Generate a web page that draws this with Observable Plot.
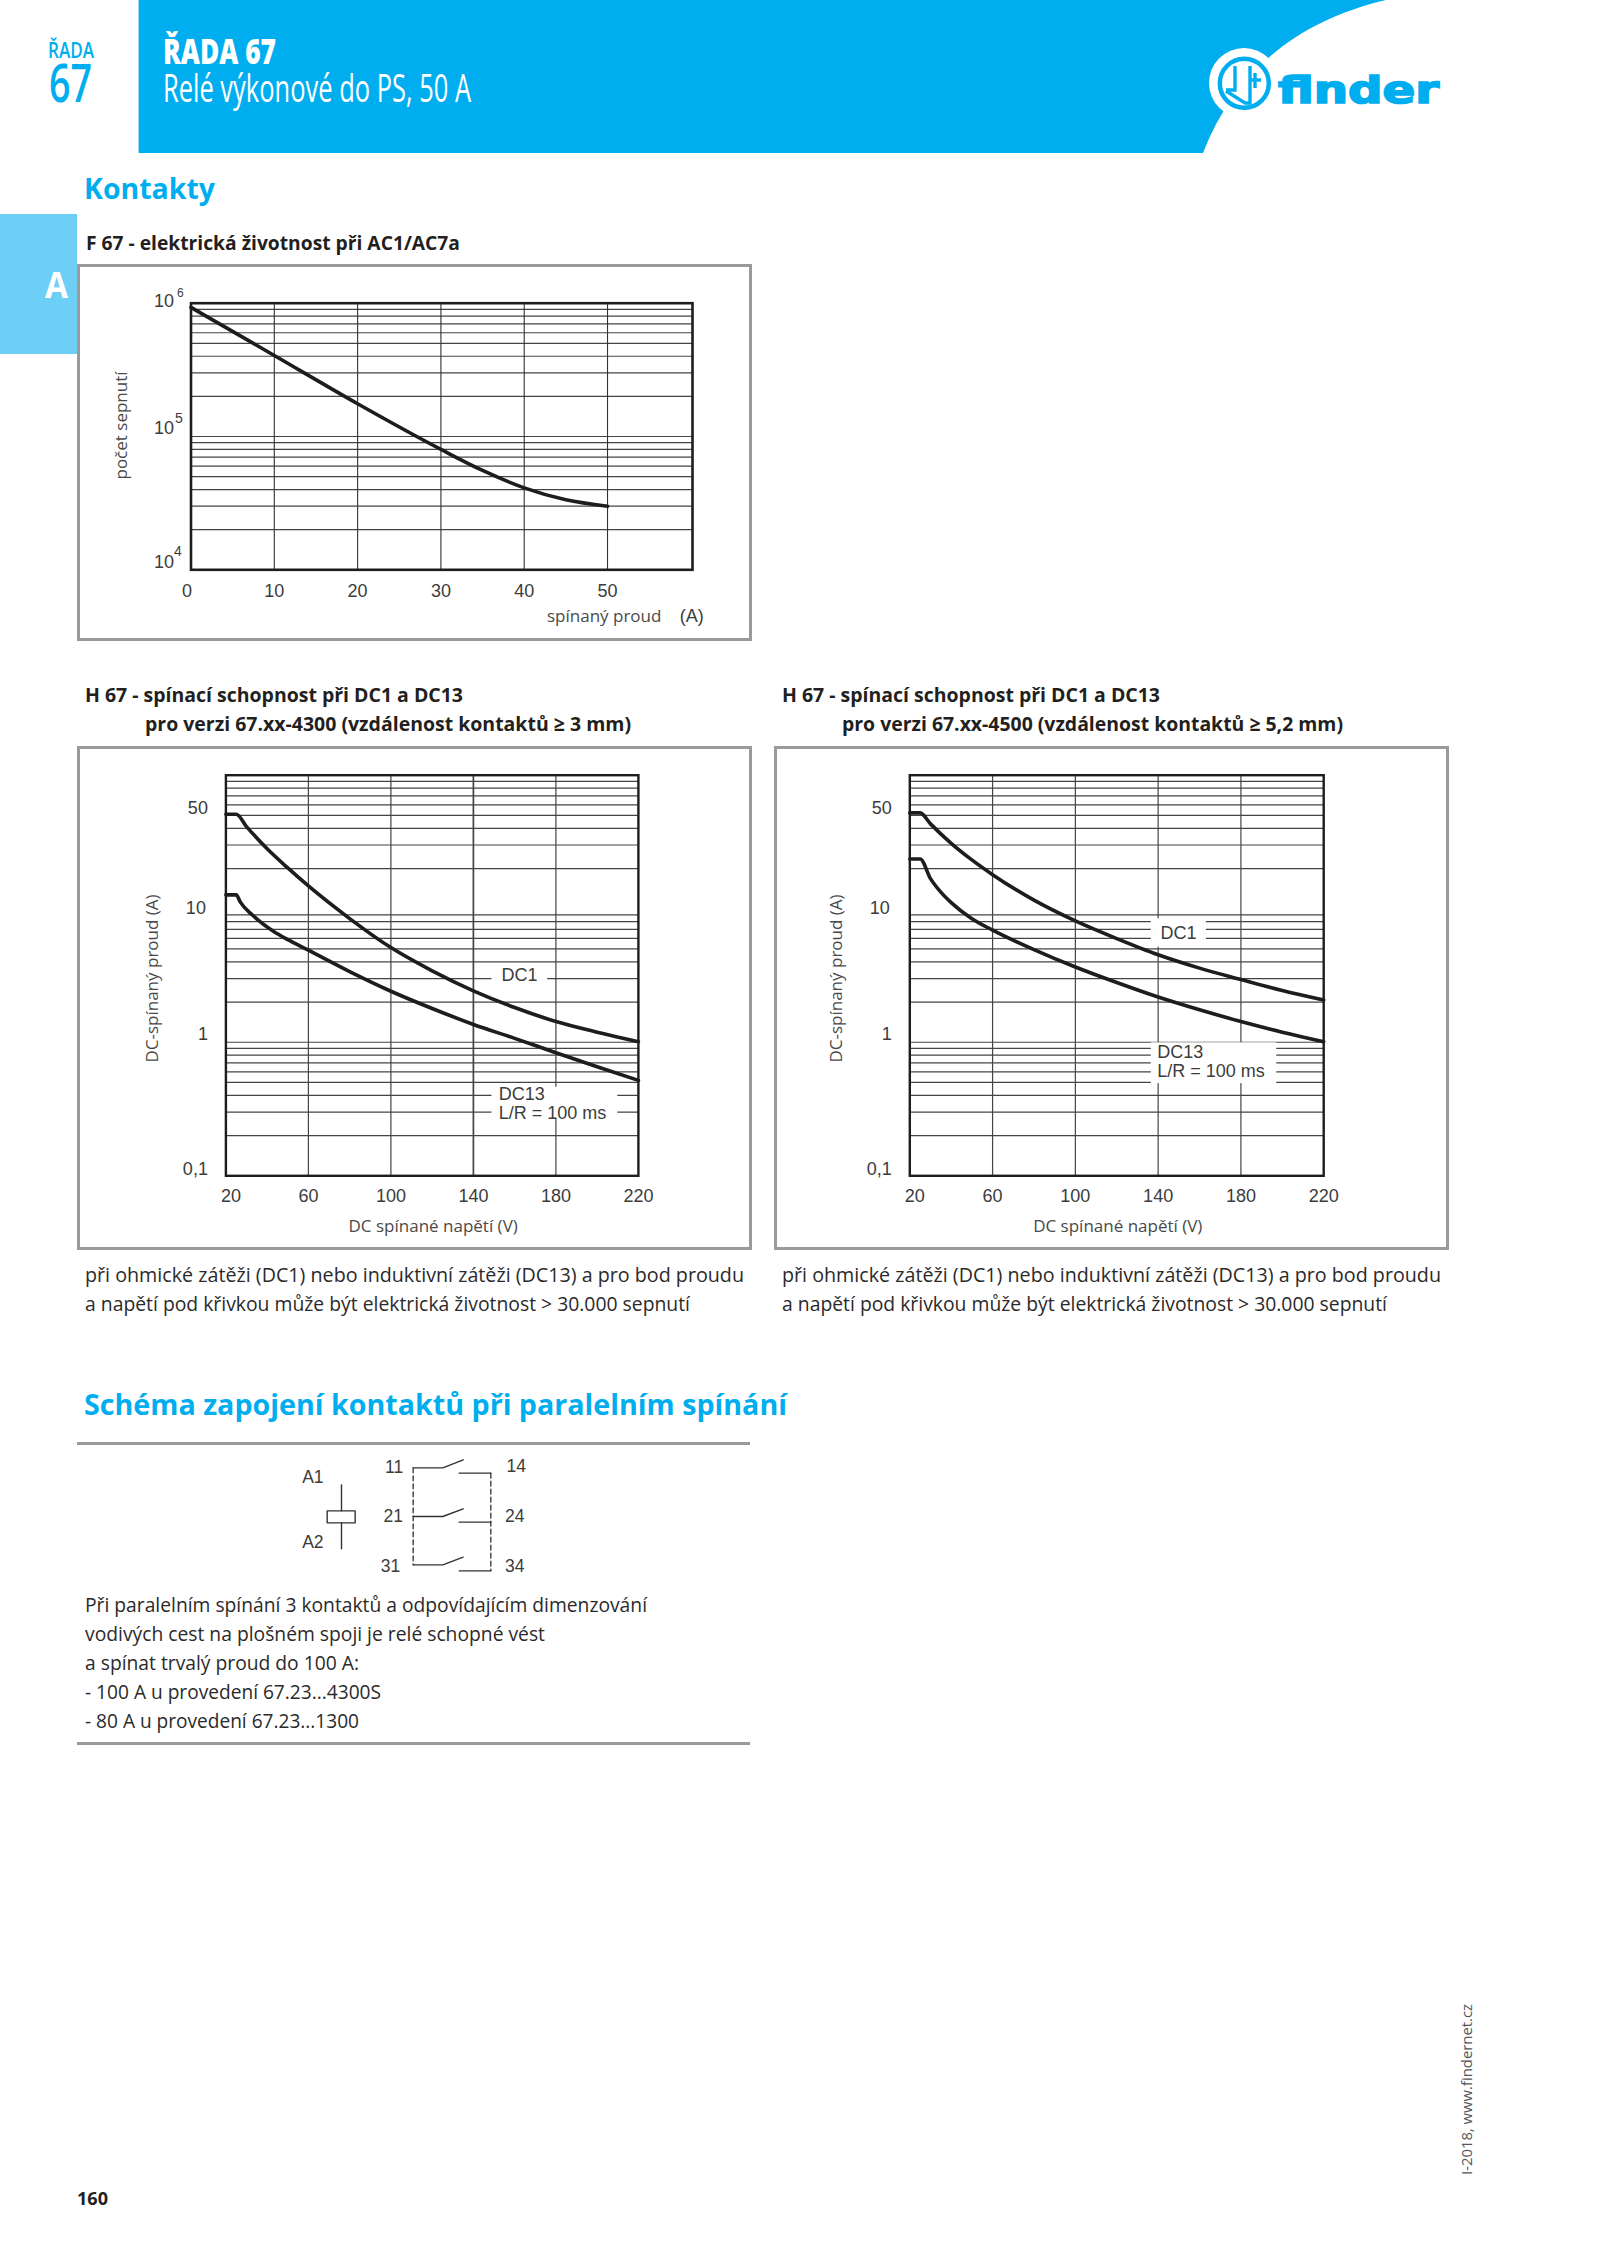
<!DOCTYPE html>
<html lang="cs"><head><meta charset="utf-8">
<script src="https://cdn.jsdelivr.net/npm/d3@7"></script>
<script src="https://cdn.jsdelivr.net/npm/@observablehq/plot@0.6"></script>
<style>
html,body{margin:0;padding:0;background:#fff}
#page{position:relative;width:1600px;height:2264px;overflow:hidden;background:#fff}
#page span.t{position:absolute;white-space:pre;transform-origin:0 0}
.panel{position:absolute;border:3px solid #9a9a9a;box-sizing:border-box}
svg.chart{position:absolute;overflow:visible;background:transparent}
</style></head><body><div id="page"></div>
<script>
// ---------- data ----------
const fCurrent = [0, 10, 20, 30, 35, 40, 45, 50];
const fCycles = [930000, 405000, 176000, 80000, 55600, 41200, 33500, 30000];
const fGrid = [2e4,3e4,4e4,5e4,6e4,7e4,8e4,9e4,1e5,2e5,3e5,4e5,5e5,6e5,7e5,8e5,9e5];
const fXGrid = [10, 20, 30, 40, 50];

const hGrid = [0.2,0.3,0.4,0.5,0.6,0.7,0.8,0.9,1,2,3,4,5,6,7,8,9,20,30,40,50,60,70,80,90];
const hXTicks = [60, 100, 140, 180, 220];

const leftDc1V = [20,25,30,40,50,60,80,100,120,140,160,180,200,220];
const leftDc1A = [51,51,41.2,28.1,20.2,14.8,8.44,5.12,3.43,2.43,1.82,1.43,1.19,1.01];
const leftDc13V = [20,25,27,33,43,50,60,80,100,120,140,160,180,200,220];
const leftDc13A = [12.7,12.7,11.2,8.93,6.78,5.87,4.89,3.38,2.41,1.79,1.36,1.07,0.835,0.655,0.518];

const rightDc1V = [20,25,30,40,50,60,80,100,120,140,160,180,200,220];
const rightDc1A = [52.2,52.2,43.2,30.9,23.2,18.0,11.6,8.11,5.98,4.52,3.59,2.95,2.44,2.07];
const rightDc13V = [20,25,30,35,40,50,60,80,100,120,140,160,180,200,220];
const rightDc13A = [23.6,23.6,16.8,13.3,11.1,8.41,6.92,4.94,3.66,2.80,2.18,1.75,1.43,1.19,1.01];

const schemPaths = [
 [[428,112],[517,112],[578,88]], [[566,128],[661,128]],
 [[428,258],[517,258],[578,235]], [[566,275],[661,275]],
 [[428,403],[517,403],[578,380]], [[566,421],[661,421]],
 [[213,163],[213,241]], [[213,277],[213,355]],
 [[170,241],[254,241],[254,277],[170,277],[170,241]]
];
const schemDashed = [[[428,112],[428,403]], [[661,128],[661,421]]];
const schemLabels = [["A1",127,140],["A2",127,337],["11",371,110],["21",368,258],["31",360,407],["14",737,108],["24",733,257],["34",733,407]];

// ---------- page helpers ----------
const page = document.getElementById("page");
const BODY = "'Open Sans','Noto Sans',sans-serif", ARIAL = "'Liberation Sans',Arial,sans-serif";
const BLUE = "#00AEEF", INK = "#231F20";
function put(text, x, base, size, weight, color, width, family = BODY) {
  const s = document.createElement("span");
  s.className = "t"; s.textContent = text;
  s.style.cssText = `left:${x}px;top:${base - size * 0.78}px;font:${weight} ${size}px/${size * 0.8}px ${family};color:${color}`;
  page.appendChild(s);
  if (width) s.style.transform = `scaleX(${width / s.getBoundingClientRect().width})`;
  return s;
}
function box(l, t, r, b, css) {
  const d = document.createElement("div");
  d.style.cssText = `position:absolute;left:${l}px;top:${t}px;width:${r-l}px;height:${b-t}px;${css}`;
  page.appendChild(d); return d;
}
function panel(l, t, r, b) { const d = box(l, t, r, b, ""); d.className = "panel"; }

// ---------- header ----------
const NS = "http://www.w3.org/2000/svg";
const hdr = document.createElementNS(NS, "svg");
hdr.setAttribute("width", 1600); hdr.setAttribute("height", 170);
hdr.style.cssText = "position:absolute;left:0;top:0";
hdr.innerHTML = `
<path d="M138.6 0H1386C1300 20 1235 70 1203 153H138.6Z" fill="${BLUE}"/>
<circle cx="1244" cy="83" r="35" fill="#fff"/>
<circle cx="1244.3" cy="83.3" r="24.5" fill="#fff" stroke="${BLUE}" stroke-width="4.5"/>
<g fill="none" stroke="${BLUE}" stroke-width="3.4">
 <path d="M1226 90H1235V66"/><path d="M1226 91L1245 103H1250V66"/><path d="M1250 80H1261"/><path d="M1255 73V88"/>
</g>`;
page.appendChild(hdr);

put("ŘADA", 48, 58, 22, 600, BLUE, 46);
put("67", 49, 102, 52, 600, BLUE, 43);
put("ŘADA 67", 163, 65, 36, 800, "#fff", 113);
put("Relé výkonové do PS, 50 A", 163, 102, 38, 400, "#fff", 308);
put("finder", 1278, 105, 38, 700, BLUE, 161, "'DejaVu Sans',sans-serif").style.webkitTextStroke = "1.7px " + BLUE;

box(0, 213.5, 76.5, 354, "background:#6DCFF6");
put("A", 45, 298, 35, 700, "#fff", 23);
put("Kontakty", 84, 199, 29, 700, BLUE, 131);
put("F 67 - elektrická životnost při AC1/AC7a", 85.5, 250.5, 20, 700, INK, 374);

// section titles
put("H 67 - spínací schopnost při DC1 a DC13", 85, 702.5, 20, 700, INK, 378);
put("pro verzi 67.xx-4300 (vzdálenost kontaktů ≥ 3 mm)", 144.5, 731.5, 20, 700, INK, 486);
put("H 67 - spínací schopnost při DC1 a DC13", 781.5, 702.5, 20, 700, INK, 378);
put("pro verzi 67.xx-4500 (vzdálenost kontaktů ≥ 5,2 mm)", 842, 731.5, 20, 700, INK, 501);

panel(77, 264, 752, 641);
panel(77, 746, 752, 1250);
panel(773.5, 746, 1448.5, 1250);

const p1 = "při ohmické zátěži (DC1) nebo induktivní zátěži (DC13) a pro bod proudu";
const p2 = "a napětí pod křivkou může být elektrická životnost > 30.000 sepnutí";
put(p1, 85, 1282.5, 20, 400, "#2b2a2a", 659);
put(p2, 85, 1311.5, 20, 400, "#2b2a2a", 605);
put(p1, 781.5, 1282.5, 20, 400, "#2b2a2a", 659);
put(p2, 781.5, 1311.5, 20, 400, "#2b2a2a", 605);

put("Schéma zapojení kontaktů při paralelním spínání", 84, 1415, 29, 700, BLUE, 703);
box(77, 1441.5, 750, 1444.5, "background:#9a9a9a");
box(77, 1741.5, 750, 1744.5, "background:#9a9a9a");

[["Při paralelním spínání 3 kontaktů a odpovídajícím dimenzování",1612.5,562],
 ["vodivých cest na plošném spoji je relé schopné vést",1641.5,460],
 ["a spínat trvalý proud do 100 A:",1670.5,274],
 ["- 100 A u provedení 67.23...4300S",1699.5,296],
 ["- 80 A u provedení 67.23...1300",1728.5,274]].forEach(([t,b,w]) => put(t, 84.5, b, 20, 400, "#2b2a2a", w));

put("160", 77, 2205, 17, 700, INK, 31);
const rot = put("I-2018, www.findernet.cz", 0, 0, 15, 400, "#55565a", null);
rot.style.left = "1460px"; rot.style.top = "2175px"; rot.style.transformOrigin = "0 0";
rot.style.transform = `rotate(-90deg) scaleX(${171 / rot.getBoundingClientRect().width})`;

// ---------- chart helpers ----------
const GRID = "#444", TICK = "#3c3c3c", LABEL = "#4a4a4a";
const tickText = {fontFamily: ARIAL, fontSize: 18, fill: TICK, stroke: "none", lineAnchor: "middle"};
const labelText = {fontFamily: BODY, fontSize: 17, fill: LABEL, lineAnchor: "middle"};
function mount(svg, l, t) { svg.classList.add("chart"); svg.style.left = l + "px"; svg.style.top = t + "px"; page.appendChild(svg); }

// ---------- F 67 ----------
const f = fCurrent.map((x, i) => ({x, y: fCycles[i]}));
mount(Plot.plot({
  width: 675, height: 377, marginLeft: 113.5, marginRight: 60, marginTop: 38.7, marginBottom: 71.7,
  style: {background: "transparent"},
  x: {domain: [0, 60.2], axis: null},
  y: {type: "log", domain: [1e4, 1e6], axis: null},
  marks: [
    Plot.ruleY(fGrid, {stroke: GRID, strokeWidth: 1.2}),
    Plot.ruleX(fXGrid, {stroke: "#333", strokeWidth: 1.1}),
    Plot.line(f, {x: "x", y: "y", stroke: "#1d1d1b", strokeWidth: 3.6, curve: "monotone-x"}),
    Plot.frame({stroke: "#1d1d1b", strokeWidth: 2.6}),
    Plot.text(fXGrid, {x: d => d, frameAnchor: "bottom", dy: 21, ...tickText}),
    Plot.text([0], {x: d => d, frameAnchor: "bottom", dy: 21, dx: -4, ...tickText}),
    Plot.text(["10"], {y: [1e6], frameAnchor: "left", textAnchor: "end", dx: -17, dy: -2, ...tickText}),
    Plot.text(["10"], {y: [1e5], frameAnchor: "left", textAnchor: "end", dx: -17, dy: -8, ...tickText}),
    Plot.text(["10"], {y: [1e4], frameAnchor: "left", textAnchor: "end", dx: -17, dy: -8, ...tickText}),
    Plot.text(["6"], {y: [1e6], frameAnchor: "left", textAnchor: "start", dx: -14, dy: -10, ...tickText, fontSize: 12}),
    Plot.text(["5"], {y: [1e5], frameAnchor: "left", textAnchor: "start", dx: -16, dy: -18, ...tickText, fontSize: 14}),
    Plot.text(["4"], {y: [1e4], frameAnchor: "left", textAnchor: "start", dx: -17, dy: -18, ...tickText, fontSize: 14}),
    Plot.text(["počet sepnutí"], {frameAnchor: "left", textAnchor: "middle", rotate: -90, dx: -69.5, dy: -11, ...labelText}),
    Plot.text(["spínaný proud"], {x: [49.6], frameAnchor: "bottom", dy: 47, ...labelText}),
    Plot.text(["(A)"], {x: [60.1], frameAnchor: "bottom", dy: 46, ...tickText})
  ]
}), 77, 264);

// ---------- H 67 ----------
function hChart(o) {
  const series = (xs, ys) => xs.map((x, i) => ({x, y: ys[i]}));
  return Plot.plot({
    width: 675, height: 504, marginLeft: o.ml, marginRight: o.mr, marginTop: 28.7, marginBottom: 74.7,
    style: {background: "transparent"},
    x: {domain: [20, 220], axis: null},
    y: {type: "log", domain: [0.1, 100], axis: null},
    marks: [
      Plot.ruleY(hGrid, {stroke: GRID, strokeWidth: 1.2}),
      Plot.ruleX(hXTicks.slice(0, 4), {stroke: "#444", strokeWidth: d => d === 140 && o.heavy140 ? 1.7 : 1.2}),
      Plot.rect(o.masks, {x1: "x1", x2: "x2", y1: "y1", y2: "y2", fill: "#fff"}),
      Plot.line(series(o.dc1V, o.dc1A), {x: "x", y: "y", stroke: "#1d1d1b", strokeWidth: 3.6, curve: "monotone-x"}),
      Plot.line(series(o.dc13V, o.dc13A), {x: "x", y: "y", stroke: "#1d1d1b", strokeWidth: 3.6, curve: "monotone-x"}),
      Plot.frame({stroke: "#1d1d1b", strokeWidth: 2.4}),
      Plot.text(hXTicks, {x: d => d, frameAnchor: "bottom", dy: 20, ...tickText}),
      Plot.text([20], {x: d => d, frameAnchor: "bottom", dy: 20, dx: 5, ...tickText}),
      Plot.text(["50"], {y: [50], frameAnchor: "left", textAnchor: "end", dx: -18, dy: -7, ...tickText}),
      Plot.text(["10"], {y: [10], frameAnchor: "left", textAnchor: "end", dx: -20, ...tickText}),
      Plot.text(["1"], {y: [1], frameAnchor: "left", textAnchor: "end", dx: -18, dy: -8, ...tickText}),
      Plot.text(["0,1"], {y: [0.1], frameAnchor: "left", textAnchor: "end", dx: -18, dy: -7, ...tickText}),
      Plot.text(["DC-spínaný proud (A)"], {frameAnchor: "left", textAnchor: "middle", rotate: -90, dx: -73, dy: 3, ...labelText}),
      Plot.text(["DC spínané napětí (V)"], {frameAnchor: "bottom", dy: 51, dx: 1, ...labelText}),
      Plot.text(["DC1"], {x: [o.dc1At[0]], y: [o.dc1At[1]], ...tickText}),
      Plot.text(["DC13"], {x: [o.dc13At[0]], y: [o.dc13At[1]], textAnchor: "start", ...tickText}),
      Plot.text(["L/R = 100 ms"], {x: [o.lrAt[0]], y: [o.lrAt[1]], textAnchor: "start", ...tickText})
    ]
  });
}
mount(hChart({
  ml: 148.4, mr: 114.1, heavy140: true,
  dc1V: leftDc1V, dc1A: leftDc1A, dc13V: leftDc13V, dc13A: leftDc13A,
  masks: [{x1: 149, x2: 176, y1: 2.6, y2: 3.6}, {x1: 149, x2: 210, y1: 0.267, y2: 0.461}],
  dc1At: [162.3, 3.2], dc13At: [152.3, 0.411], lrAt: [152.3, 0.294]
}), 77, 746);
mount(hChart({
  ml: 135.3, mr: 125.8, heavy140: false,
  dc1V: rightDc1V, dc1A: rightDc1A, dc13V: rightDc13V, dc13A: rightDc13A,
  masks: [{x1: 136.7, x2: 163.3, y1: 5.15, y2: 8.4}, {x1: 136.7, x2: 197.3, y1: 0.49, y2: 0.99}],
  dc1At: [149.8, 6.6], dc13At: [139.6, 0.843], lrAt: [139.6, 0.608]
}), 773.5, 746);

// ---------- schematic ----------
const rows = (paths) => paths.flatMap((p, id) => p.map(([x, y]) => ({id, x, y})));
mount(Plot.plot({
  width: 300, height: 170, margin: 0,
  style: {background: "transparent"},
  x: {domain: [0, 900], axis: null},
  y: {domain: [510, 0], axis: null},
  marks: [
    Plot.line(rows(schemPaths), {x: "x", y: "y", z: "id", stroke: "#333", strokeWidth: 1.4, curve: "linear"}),
    Plot.line(rows(schemDashed), {x: "x", y: "y", z: "id", stroke: "#333", strokeWidth: 1.3, strokeDasharray: "5,3"}),
    Plot.text(schemLabels, {x: d => d[1], y: d => d[2], text: d => d[0], ...tickText, fontSize: 17.5})
  ]
}), 270, 1430);
</script></body></html>
